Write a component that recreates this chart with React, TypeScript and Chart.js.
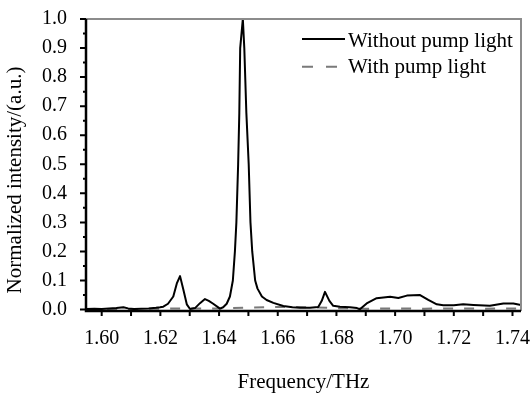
import React, { useEffect, useRef } from 'react';
import { Chart, registerables } from 'chart.js';

Chart.register(...registerables);

// ---- data ----
const frequency = [
  1.5947, 1.5975, 1.600, 1.6025, 1.605, 1.6074, 1.609, 1.611, 1.6135, 1.616, 1.6185, 1.6199,
  1.6210, 1.6226, 1.6244, 1.6256, 1.6267, 1.6278, 1.6290, 1.6301, 1.6318, 1.6335, 1.6352, 1.6365,
  1.6380, 1.6403, 1.6414, 1.6426, 1.6437, 1.6447, 1.6454, 1.6459, 1.6465, 1.6469, 1.6472, 1.6481,
  1.6486, 1.6493, 1.6501, 1.6507, 1.6513, 1.6523, 1.6531, 1.6546, 1.6562, 1.6585, 1.6619, 1.6650,
  1.6676, 1.6710, 1.6738, 1.6750, 1.6761, 1.6776, 1.6789, 1.6812, 1.6846, 1.6870, 1.6880, 1.6903,
  1.6937, 1.6983, 1.7011, 1.7040, 1.7085, 1.7113, 1.7142, 1.7164, 1.7200, 1.7232, 1.7267, 1.7323,
  1.7369, 1.7403, 1.7429,
];
const withoutPump = [
  0.002, 0.003, 0.002, 0.004, 0.005, 0.008, 0.004, 0.002, 0.003, 0.004, 0.006, 0.008,
  0.010, 0.020, 0.045, 0.090, 0.115, 0.070, 0.018, 0.002, 0.005, 0.022, 0.036, 0.030,
  0.020, 0.003, 0.008, 0.020, 0.045, 0.100, 0.200, 0.300, 0.500, 0.677, 0.900, 1.000,
  0.900, 0.677, 0.500, 0.300, 0.200, 0.100, 0.072, 0.045, 0.033, 0.023, 0.012, 0.008,
  0.006, 0.006, 0.009, 0.030, 0.061, 0.030, 0.013, 0.010, 0.008, 0.005, 0.001, 0.021,
  0.039, 0.044, 0.040, 0.048, 0.050, 0.033, 0.018, 0.015, 0.015, 0.018, 0.016, 0.013,
  0.021, 0.021, 0.016,
];
const pumpFrequency = [
  1.5947, 1.61, 1.62, 1.63, 1.64, 1.65, 1.66, 1.67, 1.68, 1.69, 1.70, 1.71, 1.72, 1.73, 1.7429,
];
const withPump = [
  0.002, 0.002, 0.003, 0.004, 0.004, 0.007, 0.009, 0.008, 0.005, 0.003, 0.004, 0.003, 0.004, 0.003, 0.004,
];
const seriesLabels = ['Without pump light', 'With pump light'];
const xTickValues = [1.60, 1.62, 1.64, 1.66, 1.68, 1.70, 1.72, 1.74];
const xMinorTickValues = [1.61, 1.63, 1.65, 1.67, 1.69, 1.71, 1.73];
const yTickValues = [0.0, 0.1, 0.2, 0.3, 0.4, 0.5, 0.6, 0.7, 0.8, 0.9, 1.0];
const yMinorTickValues = [0.05, 0.15, 0.25, 0.35, 0.45, 0.55, 0.65, 0.75, 0.85, 0.95];
const xTitle = 'Frequency/THz';
const yTitle = 'Normalized intensity/(a.u.)';

const FONT = '"Liberation Serif", "Times New Roman", serif';

const decorPlugin = {
  id: 'decor',
  afterDatasetsDraw(chart: any) {
    const { ctx, chartArea: a, scales } = chart;
    const x = scales.x;
    const y = scales.y;
    ctx.save();
    // top / right frame (gray)
    ctx.strokeStyle = '#8c8c8c';
    ctx.lineWidth = 2;
    ctx.beginPath();
    ctx.moveTo(a.left, a.top);
    ctx.lineTo(a.right, a.top);
    ctx.lineTo(a.right, a.bottom);
    ctx.stroke();
    // left / bottom axes (black)
    ctx.strokeStyle = '#000';
    ctx.lineWidth = 2.5;
    ctx.beginPath();
    ctx.moveTo(a.left, a.top);
    ctx.lineTo(a.left, a.bottom);
    ctx.lineTo(a.right, a.bottom);
    ctx.stroke();
    // ticks
    ctx.lineWidth = 2;
    ctx.beginPath();
    [...xTickValues, ...xMinorTickValues].forEach((v) => {
      const px = x.getPixelForValue(v);
      ctx.moveTo(px, a.bottom);
      ctx.lineTo(px, a.bottom + 5);
    });
    yTickValues.forEach((v) => {
      const py = y.getPixelForValue(v);
      ctx.moveTo(a.left - 6, py);
      ctx.lineTo(a.left, py);
    });
    yMinorTickValues.forEach((v) => {
      const py = y.getPixelForValue(v);
      ctx.moveTo(a.left - 3, py);
      ctx.lineTo(a.left, py);
    });
    ctx.stroke();

    // axis titles
    ctx.fillStyle = '#000';
    ctx.font = `21px ${FONT}`;
    ctx.textAlign = 'center';
    ctx.textBaseline = 'alphabetic';
    ctx.fillText(xTitle, (a.left + a.right) / 2, 388);
    ctx.save();
    ctx.translate(21, 180);
    ctx.rotate(-Math.PI / 2);
    ctx.fillText(yTitle, 0, 0);
    ctx.restore();

    // legend
    const ds = chart.data.datasets;
    const rows = [
      { lineY: 39, textY: 46.7 },
      { lineY: 66.7, textY: 73.3 },
    ];
    ds.forEach((d: any, i: number) => {
      const r = rows[i];
      ctx.strokeStyle = d.borderColor;
      ctx.lineWidth = 2;
      ctx.setLineDash(i === 1 ? [11, 13] : []);
      ctx.beginPath();
      ctx.moveTo(302, r.lineY);
      ctx.lineTo(i === 1 ? 337 : 345, r.lineY);
      ctx.stroke();
      ctx.setLineDash([]);
      ctx.fillStyle = '#000';
      ctx.textAlign = 'left';
      ctx.fillText(d.label, 348, r.textY);
    });
    ctx.restore();
  },
};

export default function App() {
  const ref = useRef<HTMLCanvasElement | null>(null);
  useEffect(() => {
    if (!ref.current) return;
    const chart = new Chart(ref.current, {
      type: 'line',
      data: {
        datasets: [
          {
            label: seriesLabels[0],
            data: frequency.map((f, i) => ({ x: f, y: withoutPump[i] })),
            borderColor: '#000000',
            borderWidth: 2,
            pointRadius: 0,
            tension: 0,
            borderJoinStyle: 'round',
            fill: false,
          },
          {
            label: seriesLabels[1],
            data: pumpFrequency.map((f, i) => ({ x: f, y: withPump[i] })),
            borderColor: '#7a7a7a',
            borderWidth: 2,
            borderDash: [10, 11],
            pointRadius: 0,
            tension: 0,
            fill: false,
          },
        ],
      },
      options: {
        animation: false,
        responsive: false,
        devicePixelRatio: 1,
        layout: { padding: { left: 0, right: 10, top: 19, bottom: 0 } },
        plugins: { legend: { display: false }, tooltip: { enabled: false } },
        scales: {
          x: {
            type: 'linear',
            min: 1.59465,
            max: 1.7429,
            afterBuildTicks: (s: any) => {
              s.ticks = xTickValues.map((v) => ({ value: v }));
            },
            afterFit: (s: any) => {
              s.height = 85;
              s.paddingLeft = 0;
              s.paddingRight = 0;
            },
            ticks: {
              callback: (v: any) => Number(v).toFixed(2),
              font: { family: FONT, size: 20 },
              color: '#000',
              padding: 16,
              maxRotation: 0,
              autoSkip: false,
            },
            grid: { display: false, drawTicks: false },
            border: { display: false },
          },
          y: {
            type: 'linear',
            min: -0.005,
            max: 1.0,
            afterBuildTicks: (s: any) => {
              s.ticks = yTickValues.map((v) => ({ value: v }));
            },
            afterFit: (s: any) => {
              s.width = 86;
              s.paddingTop = 0;
              s.paddingBottom = 0;
            },
            ticks: {
              callback: (v: any) => Number(v).toFixed(1),
              font: { family: FONT, size: 20 },
              color: '#000',
              padding: 19,
              autoSkip: false,
            },
            grid: { display: false, drawTicks: false },
            border: { display: false },
          },
        },
      },
      plugins: [decorPlugin],
    } as any);
    return () => chart.destroy();
  }, []);
  return (
    <div style={{ position: 'fixed', left: 0, top: 0, width: 531, height: 396, background: '#fff' }}>
      <canvas ref={ref} width={531} height={396} style={{ display: 'block' }} />
    </div>
  );
}
